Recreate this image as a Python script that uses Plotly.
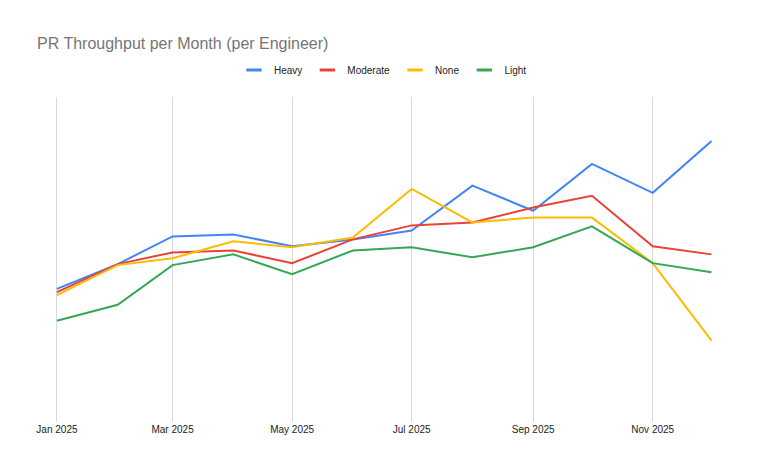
import plotly.graph_objects as go

months = ["2025-01-01", "2025-02-01", "2025-03-01", "2025-04-01", "2025-05-01", "2025-06-01",
          "2025-07-01", "2025-08-01", "2025-09-01", "2025-10-01", "2025-11-01", "2025-12-01"]
heavy = [4.09, 4.85, 5.70, 5.76, 5.40, 5.61, 5.88, 7.26, 6.49, 7.93, 7.04, 8.63]
moderate = [3.99, 4.85, 5.21, 5.27, 4.88, 5.61, 6.04, 6.13, 6.59, 6.95, 5.40, 5.15]
none_ = [3.90, 4.82, 5.03, 5.55, 5.37, 5.67, 7.16, 6.13, 6.28, 6.28, 4.88, 2.50]
light = [3.11, 3.60, 4.82, 5.15, 4.54, 5.27, 5.37, 5.06, 5.37, 6.01, 4.88, 4.60]

series = [("Heavy", heavy, "#4285F4"), ("Moderate", moderate, "#EA4335"),
          ("None", none_, "#FBBC04"), ("Light", light, "#34A853")]

fig = go.Figure()
for name, vals, color in series:
    fig.add_trace(go.Scatter(x=months, y=vals, name=name, mode="lines",
                             line=dict(color=color, width=2), showlegend=False,
                             legendgroup=name))
# short legend swatches
for name, vals, color in series:
    fig.add_trace(go.Scatter(x=[None], y=[None], name=name, mode="markers",
                             legendgroup=name,
                             marker=dict(symbol="line-ew-open", size=11, color=color,
                                         line=dict(color=color, width=3))))

fig.update_layout(
    width=766, height=473,
    paper_bgcolor="white", plot_bgcolor="white",
    font=dict(family="Liberation Sans, Arial, sans-serif", color="#222222", size=11),
    margin=dict(l=54, r=54, t=93, b=51),
    title=dict(text="PR Throughput per Month (per Engineer)", x=37/766, xref="container",
               xanchor="left", y=1-43/473, yref="container", yanchor="middle",
               font=dict(size=16, color="#757575")),
    legend=dict(orientation="h", x=0.5, xanchor="center", xref="container",
                y=1-70/473, yref="container", yanchor="middle",
                font=dict(size=10, color="#222222"), itemwidth=30,
                tracegroupgap=0),
    showlegend=True,
)
fig.update_xaxes(type="date", range=["2024-12-30 12:00", "2025-12-01 06:00"], dtick="M2",
                 tick0="2025-01-01", tickformat="%b %Y", showgrid=True,
                 gridcolor="#d9d9d9", gridwidth=1, zeroline=False, showline=False,
                 ticks="", tickfont=dict(size=10, color="#222222"))
fig.update_yaxes(range=[0, 10], showgrid=False, zeroline=False, showticklabels=False,
                 showline=False, ticks="")

fig.write_html("out.html")
